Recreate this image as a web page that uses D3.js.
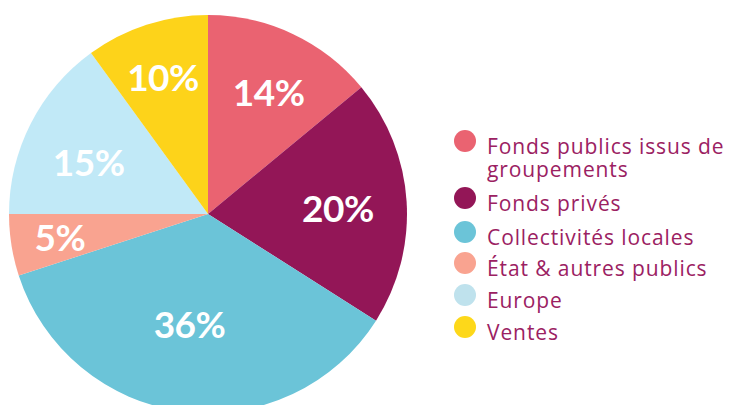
<!DOCTYPE html>
<html><head><meta charset="utf-8">
<script src="https://cdn.jsdelivr.net/npm/d3@7"></script>
<style>
html,body{margin:0;padding:0;background:#fff;}
svg{display:block;}
</style></head>
<body>
<svg id="c" width="729" height="405"></svg>
<script>
const categories = ["Fonds publics issus de groupements","Fonds privés","Collectivités locales","État & autres publics","Europe","Ventes"];
const values = [14, 20, 36, 5, 15, 10];
const colors = ["#EA6371","#931657","#6BC4D8","#F9A390","#C1E9F7","#FDD31A"];
const legendColors = ["#EA6371","#931657","#6BC4D8","#F9A390","#BFE2ED","#FDD81A"];
const legendLines = [["Fonds publics issus de","groupements"],["Fonds privés"],["Collectivités locales"],["État & autres publics"],["Europe"],["Ventes"]];

const svg = d3.select("#c");
const cx = 208, cy = 214, R = 199;
// label layout (radius, angular shift in degrees)
const labelR = [136, 130, 112, 150, 130, 144];
const labelShift = [1.3, 1.4, 2.3, -0.2, -3.7, -0.2];

const pie = d3.pie().sort(null).value(d => d)(values);
const arc = d3.arc().innerRadius(0).outerRadius(R);
const g = svg.append("g").attr("transform", `translate(${cx},${cy})`);
g.selectAll("path").data(pie).join("path")
  .attr("d", arc).attr("fill", (d,i) => colors[i]);
g.selectAll("text").data(pie).join("text")
  .attr("transform", (d,i) => {
    const a = (d.startAngle + d.endAngle)/2 + labelShift[i]*Math.PI/180;
    return `translate(${labelR[i]*Math.sin(a)},${-labelR[i]*Math.cos(a)})`;
  })
  .attr("text-anchor","middle").attr("dy","0.36em")
  .attr("font-family","Lato, 'Open Sans', sans-serif").attr("font-weight",700)
  .attr("font-size",37).attr("letter-spacing",-0.5).attr("fill","#fff")
  .text(d => d.value + "%");

const leg = svg.append("g");
const rowsY = [141, 198, 232, 263, 295, 327];
legendLines.forEach((lines, i) => {
  leg.append("circle").attr("cx",465).attr("cy",rowsY[i]).attr("r",11).attr("fill",legendColors[i]);
  const t = leg.append("text")
    .attr("font-family","'Open Sans', sans-serif").attr("font-size",21)
    .attr("letter-spacing",0.9).attr("fill","#9B2162");
  lines.forEach((s, j) => {
    t.append("tspan").attr("x",487).attr("y",rowsY[i] + 13 + j*23).text(s);
  });
});
</script>
</body></html>
